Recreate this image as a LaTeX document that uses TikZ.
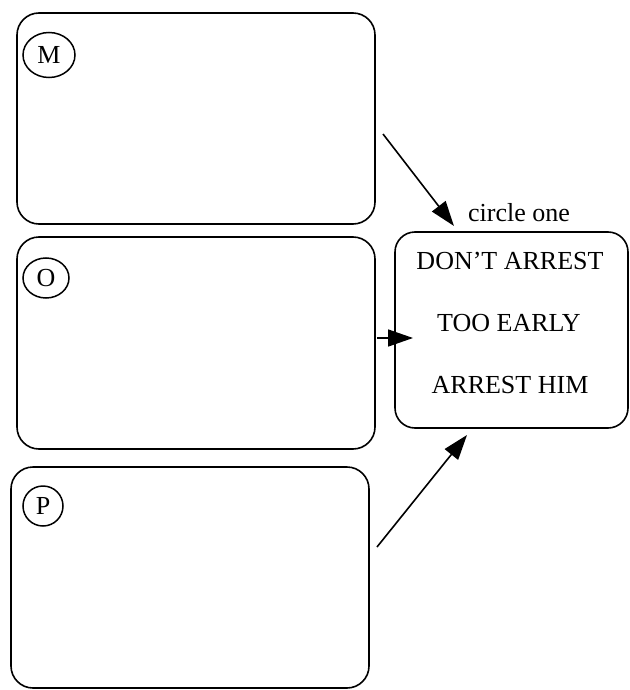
\documentclass[tikz,border=0pt]{standalone}
\usepackage{fontspec}
\setmainfont{Liberation Serif}
\usetikzlibrary{arrows.meta,shapes.geometric}
\begin{document}
\begin{tikzpicture}[x=1pt,y=-1pt,
  panel/.style={draw,line width=1.6pt,rounded corners=22pt},
  tag/.style={draw,line width=1.5pt,ellipse,inner sep=0pt,font=\fontsize{26}{30}\selectfont},
  lbl/.style={font=\fontsize{26}{30}\selectfont,inner sep=0pt},
  arr/.style={line width=1.6pt,-{Triangle[length=25pt,width=17pt]}}]
\useasboundingbox (0,0) rectangle (629,690);
% panels
\draw[panel] (17,13) rectangle (375,224);
\draw[panel] (17,237) rectangle (375,449);
\draw[panel] (11,467) rectangle (369,688);
\node (Mpanel) at (196,118) {};
\node (Opanel) at (196,343) {};
\node (Ppanel) at (190,577) {};
% tags
\node[tag,minimum width=52pt,minimum height=45pt] (M) at (49,55) {M};
\node[tag,minimum width=46pt,minimum height=40pt] (O) at (46,278) {O};
\node[tag,minimum width=40pt,minimum height=40pt] (P) at (43,506) {P};
% choice box
\node[draw,line width=1.6pt,rounded corners=20pt,minimum width=233pt,minimum height=196pt] (choice) at (511.5,330) {};
\node[lbl] (c1) at (510,261) {DON’T ARREST};
\node[lbl] (c2) at (509,323) {TOO EARLY};
\node[lbl] (c3) at (510,385) {ARREST HIM};
\node[lbl] (hint) at (519,213) {circle one};
% arrows
\coordinate (a1) at (383,134);
\coordinate (a2) at (377,338);
\coordinate (a3) at (377,547);
\coordinate (t1) at (454,226);
\coordinate (t2) at (413,338);
\coordinate (t3) at (467,435);
\draw[arr] (a1) -- (t1);
\draw[arr] (a2) -- (t2);
\draw[arr] (a3) -- (t3);
\end{tikzpicture}
\end{document}
